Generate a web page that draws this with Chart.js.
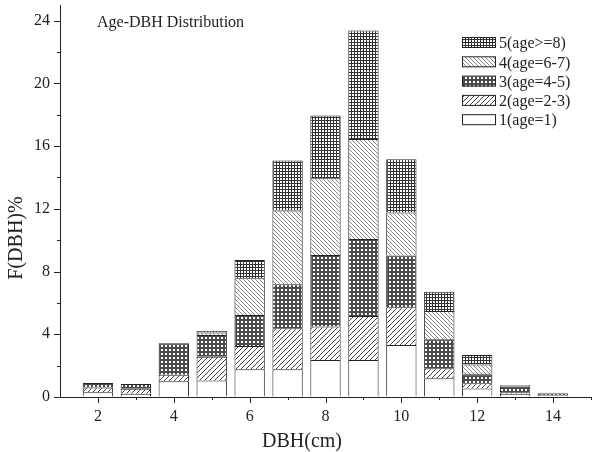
<!DOCTYPE html>
<html>
<head>
<meta charset="utf-8">
<script src="https://cdn.jsdelivr.net/npm/chart.js@4.4.0/dist/chart.umd.min.js"></script>
<style>
  html, body { margin: 0; padding: 0; background: #fff; }
  #wrap { width: 593px; height: 452px; position: relative; }
</style>
</head>
<body>
<div id="wrap"><canvas id="chart"></canvas></div>
<script>
// --- dados ---
const DBH = [2, 3, 4, 5, 6, 7, 8, 9, 10, 11, 12, 13, 14];
const AGE1 = [0.30, 0.20, 1.00, 1.05, 1.77, 1.77, 2.36, 2.36, 3.32, 1.19, 0.55, 0.20, 0.10];
const AGE2 = [0.30, 0.33, 0.42, 1.52, 1.48, 2.61, 2.13, 2.81, 2.40, 0.64, 0.32, 0.10, 0.00];
const AGE3 = [0.30, 0.30, 2.00, 1.39, 1.98, 2.81, 4.57, 4.91, 3.30, 1.85, 0.58, 0.35, 0.12];
const AGE4 = [0.00, 0.00, 0.00, 0.15, 2.34, 4.70, 4.89, 6.38, 2.75, 1.81, 0.63, 0.05, 0.00];
const AGE5 = [0.00, 0.00, 0.00, 0.10, 1.17, 3.19, 4.00, 6.92, 3.40, 1.23, 0.60, 0.05, 0.05];
const AGE_LABELS = ['1(age=1)', '2(age=2-3)', '3(age=4-5)', '4(age=6-7)', '5(age>=8)'];
const Y_TICKS = [0, 4, 8, 12, 16, 20, 24];

const INK = '#222';
const SERIF = '"Liberation Serif", "DejaVu Serif", serif';

// padrões de preenchimento (hachuras)
function makePattern(size, draw) {
  const c = document.createElement('canvas');
  c.width = size; c.height = size;
  const g = c.getContext('2d');
  g.fillStyle = '#fff';
  g.fillRect(0, 0, size, size);
  draw(g, size);
  return g.createPattern(c, 'repeat');
}

const FILLS = [
  '#ffffff',
  makePattern(5, (g, s) => { // "/"
    g.strokeStyle = '#444'; g.lineWidth = 1;
    g.beginPath();
    g.moveTo(0, s); g.lineTo(s, 0);
    g.moveTo(-1, 1); g.lineTo(1, -1);
    g.moveTo(s - 1, s + 1); g.lineTo(s + 1, s - 1);
    g.stroke();
  }),
  makePattern(4, (g) => { // pontilhado escuro
    g.fillStyle = '#4a4a4a'; g.fillRect(0, 0, 4, 4);
    g.fillStyle = '#fff'; g.fillRect(1, 1, 2, 2);
  }),
  makePattern(4, (g, s) => { // "\"
    g.strokeStyle = '#888'; g.lineWidth = 1;
    g.beginPath();
    g.moveTo(0, 0); g.lineTo(s, s);
    g.moveTo(-1, s - 1); g.lineTo(1, s + 1);
    g.moveTo(s - 1, -1); g.lineTo(s + 1, 1);
    g.stroke();
  }),
  makePattern(3, (g) => { // grade
    g.fillStyle = '#333';
    g.fillRect(0, 0, 3, 1);
    g.fillRect(0, 0, 1, 3);
  })
];

const SERIES = [AGE1, AGE2, AGE3, AGE4, AGE5];

// eixos, legenda e títulos desenhados por cima
const decor = {
  id: 'decor',
  afterDraw(chart) {
    const { ctx, chartArea: a, scales: { x, y } } = chart;
    ctx.save();
    ctx.strokeStyle = INK;
    ctx.lineWidth = 1;
    ctx.beginPath();
    for (let v = 2; v <= 15; v++) {
      const px = Math.round(x.getPixelForValue(v)) + 0.5;
      const len = v % 2 === 0 ? 6 : 3;
      ctx.moveTo(px, a.bottom); ctx.lineTo(px, a.bottom + len);
    }
    for (let v = 0; v <= 24; v += 2) {
      const py = Math.round(y.getPixelForValue(v)) + 0.5;
      const len = v % 4 === 0 ? 6 : 3;
      ctx.moveTo(a.left, py); ctx.lineTo(a.left - len, py);
    }
    ctx.stroke();

    // legenda
    ctx.font = '16px ' + SERIF;
    ctx.textBaseline = 'middle';
    ctx.textAlign = 'left';
    chart.data.datasets.slice().reverse().forEach((ds, r) => {
      const cy = 43 + r * 19.3;
      ctx.fillStyle = ds.backgroundColor;
      ctx.fillRect(462, cy - 5, 33, 10);
      ctx.strokeRect(462.5, cy - 5.5, 33, 10);
      ctx.fillStyle = INK;
      ctx.fillText(ds.label, 499, cy + 1);
    });

    // título interno
    ctx.fillText('Age-DBH Distribution', 97, 23);

    // títulos dos eixos
    ctx.font = '20px ' + SERIF;
    ctx.textAlign = 'center';
    ctx.fillText('DBH(cm)', 302, 442);
    ctx.translate(17, 238);
    ctx.rotate(-Math.PI / 2);
    ctx.fillText('F(DBH)%', 0, 0);
    ctx.restore();
  }
};

new Chart(document.getElementById('chart'), {
  type: 'bar',
  data: {
    datasets: SERIES.map((vals, i) => ({
      label: AGE_LABELS[i],
      data: vals.map((v, j) => ({ x: DBH[j], y: v === 0 ? null : v })),
      backgroundColor: FILLS[i],
      borderColor: INK,
      borderWidth: 1,
      barPercentage: 1,
      categoryPercentage: 0.8
    }))
  },
  options: {
    responsive: true,
    maintainAspectRatio: false,
    animation: false,
    layout: { padding: { top: 5, right: 2, left: 0, bottom: 0 } },
    plugins: { legend: { display: false }, tooltip: { enabled: false } },
    scales: {
      x: {
        type: 'linear',
        min: 1, max: 15,
        stacked: true,
        offset: false,
        grid: { offset: false, drawOnChartArea: false, drawTicks: false },
        border: { color: INK, width: 1 },
        ticks: {
          stepSize: 1, autoSkip: false, maxRotation: 0, padding: 10,
          color: INK, font: { family: SERIF, size: 16 },
          callback: v => (v % 2 === 0 ? v : '')
        },
        afterFit: s => { s.height = 55; s.paddingLeft = 0; s.paddingRight = 0; }
      },
      y: {
        min: 0, max: 25,
        stacked: true,
        grid: { drawOnChartArea: false, drawTicks: false },
        border: { color: INK, width: 1 },
        ticks: { padding: 10, color: INK, font: { family: SERIF, size: 16 } },
        afterBuildTicks: s => { s.ticks = Y_TICKS.map(v => ({ value: v })); },
        afterFit: s => { s.width = 60; s.paddingTop = 0; s.paddingBottom = 0; }
      }
    }
  },
  plugins: [decor]
});
</script>
</body>
</html>
